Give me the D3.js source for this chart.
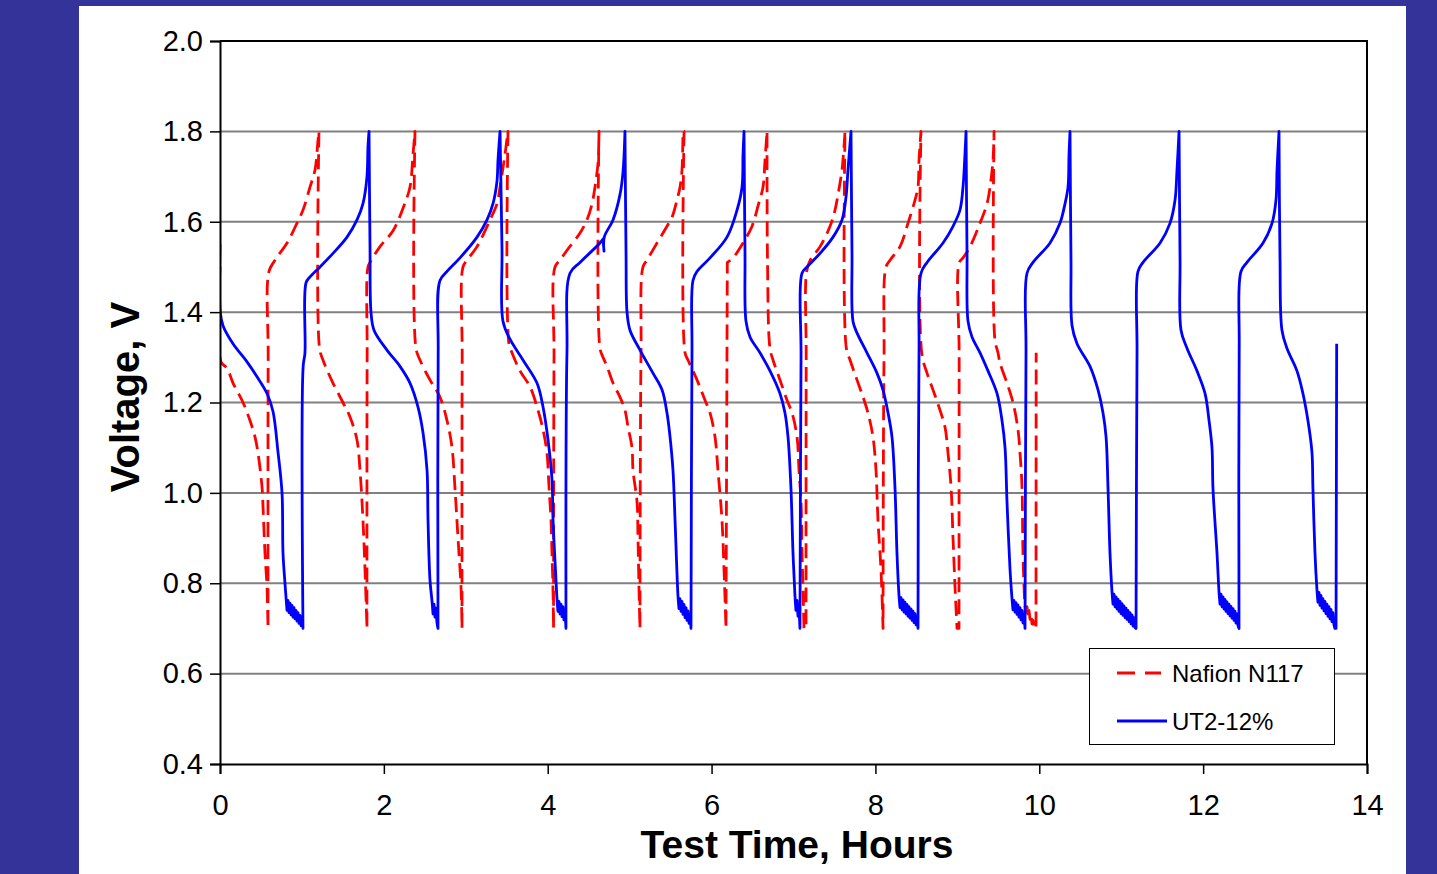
<!DOCTYPE html>
<html><head><meta charset="utf-8">
<script src="https://cdn.jsdelivr.net/npm/d3@7"></script>
<style>html,body{margin:0;padding:0;background:#333399;overflow:hidden}</style>
</head><body><svg id="chart" width="1437" height="874"></svg>
<script>
// ---------------- data ----------------
const xTicks = [0, 2, 4, 6, 8, 10, 12, 14];
const yTicks = [0.4, 0.6, 0.8, 1.0, 1.2, 1.4, 1.6, 1.8, 2.0];
const seriesNames = ["Nafion N117", "UT2-12%"];
const xLabel = "Test Time, Hours";
const yLabel = "Voltage, V";

// [hours, volts]
const nafionN117 = [
  [0.000,1.50],[0.012,1.29],[0.086,1.276],[0.159,1.243],[0.281,1.20],[0.366,1.16],[0.427,1.124],[0.464,1.088],[0.513,1.013],[0.525,0.97],[0.549,0.867],[0.574,0.79],[0.586,0.70],
  [0.588,1.30],[0.598,1.49],[0.671,1.515],[0.818,1.553],[0.940,1.597],[1.013,1.626],[1.099,1.677],[1.160,1.715],[1.196,1.78],[1.208,1.80],
  [1.215,1.32],[1.257,1.294],[1.379,1.243],[1.501,1.20],[1.587,1.168],[1.672,1.117],[1.709,1.05],[1.745,0.94],[1.770,0.83],[1.794,0.70],
  [1.796,1.30],[1.806,1.50],[1.831,1.51],[1.953,1.545],[2.112,1.58],[2.234,1.63],[2.319,1.677],[2.356,1.75],[2.380,1.80],
  [2.392,1.32],[2.441,1.294],[2.563,1.25],[2.685,1.212],[2.771,1.16],[2.832,1.10],[2.868,1.01],[2.905,0.90],[2.942,0.79],[2.954,0.70],
  [2.956,1.30],[2.966,1.50],[3.015,1.515],[3.137,1.545],[3.296,1.604],[3.381,1.64],[3.418,1.677],[3.479,1.75],[3.515,1.80],
  [3.527,1.33],[3.564,1.31],[3.662,1.27],[3.784,1.235],[3.881,1.183],[3.943,1.14],[3.991,1.088],[4.016,1.013],[4.040,0.94],[4.052,0.867],[4.065,0.78],[4.071,0.70],
  [4.077,1.30],[4.089,1.50],[4.150,1.515],[4.236,1.537],[4.394,1.575],[4.479,1.604],[4.541,1.64],[4.577,1.677],[4.614,1.73],[4.626,1.80],
  [4.638,1.32],[4.675,1.30],[4.724,1.28],[4.797,1.243],[4.882,1.212],[4.943,1.183],[4.980,1.146],[5.029,1.10],[5.041,1.05],[5.090,0.98],[5.102,0.90],[5.114,0.79],[5.126,0.70],
  [5.139,1.31],[5.163,1.50],[5.212,1.515],[5.334,1.553],[5.456,1.59],[5.517,1.61],[5.578,1.648],[5.615,1.677],[5.639,1.715],[5.651,1.80],
  [5.664,1.80],[5.676,1.31],[5.712,1.294],[5.822,1.25],[5.920,1.205],[5.981,1.177],[6.042,1.124],[6.078,1.05],[6.127,0.94],[6.152,0.83],[6.176,0.70],
  [6.188,1.30],[6.192,1.51],[6.262,1.52],[6.384,1.553],[6.494,1.59],[6.567,1.635],[6.628,1.677],[6.652,1.736],[6.677,1.80],
  [6.683,1.51],[6.713,1.32],[6.750,1.294],[6.835,1.25],[6.921,1.205],[6.982,1.177],[7.043,1.124],[7.067,1.05],[7.092,0.98],[7.104,0.867],[7.116,0.79],[7.128,0.70],
  [7.153,0.70],[7.155,1.30],[7.160,1.49],[7.204,1.515],[7.324,1.545],[7.446,1.59],[7.507,1.626],[7.543,1.66],[7.592,1.715],[7.629,1.80],
  [7.645,1.32],[7.690,1.294],[7.775,1.25],[7.849,1.212],[7.909,1.177],[7.970,1.124],[8.007,1.05],[8.031,0.94],[8.068,0.83],[8.093,0.70],
  [8.105,1.30],[8.129,1.50],[8.178,1.515],[8.300,1.545],[8.398,1.597],[8.483,1.648],[8.520,1.677],[8.532,1.736],[8.556,1.80],
  [8.565,1.31],[8.630,1.265],[8.703,1.228],[8.788,1.183],[8.849,1.146],[8.886,1.088],[8.923,1.013],[8.947,0.90],[8.972,0.79],[8.996,0.70],
  [9.020,0.70],[9.022,1.30],[9.024,1.51],[9.069,1.52],[9.155,1.545],[9.277,1.597],[9.362,1.64],[9.399,1.677],[9.435,1.736],[9.448,1.80],
  [9.458,1.34],[9.496,1.31],[9.521,1.287],[9.606,1.243],[9.679,1.20],[9.740,1.14],[9.765,1.088],[9.789,1.013],[9.801,0.867],[9.826,0.75],
  [9.838,0.735],[9.850,0.748],[9.862,0.728],[9.874,0.740],[9.887,0.720],[9.899,0.730],[9.911,0.710],[9.923,0.718],[9.935,0.700],[9.960,0.700],
  [9.962,1.31]
];

const ut2_12 = [
  [0.000,1.55],[0.003,1.40],[0.037,1.37],[0.159,1.33],[0.330,1.29],[0.452,1.257],[0.574,1.22],[0.647,1.18],[0.708,1.09],[0.757,1.00],[0.769,0.867],[0.793,0.80],
  [0.806,0.768],[0.818,0.740],[0.830,0.762],[0.842,0.735],[0.855,0.756],[0.867,0.730],[0.879,0.751],[0.891,0.725],[0.903,0.746],[0.916,0.721],[0.928,0.740],[0.940,0.716],[0.952,0.735],[0.964,0.711],[0.977,0.729],[0.989,0.706],[1.001,0.722],[1.013,0.700],
  [1.015,1.28],[1.037,1.31],[1.050,1.465],[1.099,1.478],[1.221,1.50],[1.379,1.53],[1.550,1.566],[1.672,1.604],[1.745,1.64],[1.794,1.70],[1.806,1.765],[1.819,1.80],
  [1.831,1.545],[1.843,1.40],[1.880,1.36],[2.038,1.316],[2.197,1.28],[2.319,1.243],[2.417,1.19],[2.478,1.133],[2.527,1.05],[2.539,0.94],[2.563,0.807],
  [2.588,0.760],[2.600,0.732],[2.612,0.754],[2.624,0.725],[2.637,0.745],[2.649,0.712],[2.661,0.700],
  [2.663,1.31],[2.685,1.47],[2.771,1.49],[2.929,1.52],[3.137,1.566],[3.259,1.604],[3.332,1.64],[3.381,1.69],[3.393,1.736],[3.418,1.80],
  [3.442,1.54],[3.454,1.38],[3.540,1.34],[3.698,1.294],[3.869,1.243],[3.943,1.19],[4.004,1.117],[4.052,1.03],[4.065,0.94],[4.101,0.807],
  [4.113,0.766],[4.125,0.738],[4.137,0.760],[4.150,0.732],[4.162,0.754],[4.174,0.726],[4.186,0.748],[4.198,0.719],[4.211,0.738],[4.223,0.700],
  [4.235,1.31],[4.272,1.486],[4.394,1.51],[4.638,1.553],[4.675,1.562],[4.687,1.535],[4.690,1.566],[4.797,1.604],[4.882,1.66],[4.919,1.71],[4.943,1.80],
  [4.956,1.53],[4.968,1.40],[5.004,1.36],[5.127,1.316],[5.285,1.265],[5.395,1.228],[5.456,1.177],[5.493,1.124],[5.529,1.05],[5.554,0.94],
  [5.590,0.772],[5.602,0.744],[5.614,0.766],[5.627,0.738],[5.639,0.760],[5.651,0.731],[5.663,0.753],[5.676,0.724],[5.688,0.746],[5.700,0.718],[5.712,0.739],[5.725,0.711],[5.737,0.730],[5.749,0.700],
  [5.761,1.31],[5.773,1.47],[5.822,1.49],[5.981,1.52],[6.188,1.566],[6.311,1.626],[6.372,1.677],[6.384,1.75],[6.396,1.80],
  [6.408,1.53],[6.420,1.38],[6.469,1.345],[6.591,1.31],[6.713,1.27],[6.835,1.22],[6.896,1.177],[6.933,1.124],[6.969,1.01],[6.994,0.867],
  [7.018,0.772],[7.030,0.740],[7.043,0.762],[7.055,0.727],[7.067,0.748],[7.079,0.700],
  [7.092,1.30],[7.104,1.486],[7.165,1.50],[7.324,1.53],[7.482,1.566],[7.592,1.604],[7.641,1.655],[7.665,1.715],[7.702,1.80],
  [7.714,1.53],[7.726,1.38],[7.775,1.354],[7.897,1.31],[8.019,1.265],[8.092,1.228],[8.154,1.177],[8.202,1.124],[8.239,1.01],[8.263,0.867],
  [8.288,0.772],[8.300,0.746],[8.312,0.768],[8.325,0.741],[8.337,0.763],[8.349,0.736],[8.361,0.758],[8.374,0.732],[8.386,0.753],[8.398,0.727],[8.410,0.748],[8.422,0.723],[8.435,0.743],[8.447,0.718],[8.459,0.738],[8.471,0.713],[8.483,0.733],[8.496,0.708],[8.508,0.726],[8.520,0.700],
  [8.532,1.31],[8.556,1.486],[8.630,1.51],[8.825,1.553],[8.947,1.59],[9.032,1.626],[9.069,1.677],[9.093,1.75],[9.106,1.80],
  [9.118,1.53],[9.130,1.38],[9.179,1.345],[9.277,1.31],[9.374,1.27],[9.484,1.22],[9.545,1.16],[9.582,1.10],[9.606,0.98],[9.643,0.83],
  [9.667,0.766],[9.679,0.741],[9.691,0.762],[9.704,0.736],[9.716,0.757],[9.728,0.731],[9.740,0.752],[9.752,0.725],[9.765,0.746],[9.777,0.719],[9.789,0.740],[9.801,0.712],[9.813,0.732],[9.826,0.700],
  [9.838,1.31],[9.850,1.486],[9.923,1.51],[10.131,1.553],[10.253,1.597],[10.314,1.64],[10.351,1.677],[10.363,1.75],[10.375,1.80],
  [10.387,1.515],[10.400,1.37],[10.461,1.33],[10.619,1.28],[10.717,1.228],[10.778,1.177],[10.815,1.124],[10.839,1.01],[10.863,0.867],
  [10.888,0.780],[10.900,0.754],[10.912,0.776],[10.924,0.748],[10.937,0.770],[10.949,0.743],[10.961,0.765],[10.973,0.738],[10.986,0.760],[10.998,0.733],[11.010,0.755],[11.022,0.729],[11.034,0.750],[11.047,0.724],[11.059,0.745],[11.071,0.720],[11.083,0.740],[11.096,0.715],[11.108,0.735],[11.120,0.710],[11.132,0.730],[11.145,0.705],[11.157,0.724],[11.169,0.702],[11.181,0.700],
  [11.193,1.31],[11.205,1.49],[11.266,1.51],[11.474,1.553],[11.596,1.597],[11.657,1.648],[11.681,1.715],[11.706,1.80],
  [11.718,1.515],[11.730,1.36],[11.803,1.32],[11.925,1.27],[12.023,1.22],[12.072,1.16],[12.108,1.10],[12.120,1.01],[12.169,0.867],
  [12.194,0.780],[12.206,0.754],[12.218,0.776],[12.230,0.748],[12.243,0.770],[12.255,0.743],[12.267,0.764],[12.279,0.738],[12.291,0.759],[12.304,0.733],[12.316,0.754],[12.328,0.728],[12.340,0.749],[12.352,0.723],[12.365,0.744],[12.377,0.718],[12.389,0.738],[12.401,0.712],[12.413,0.732],[12.426,0.706],[12.438,0.700],
  [12.440,1.32],[12.462,1.49],[12.535,1.51],[12.731,1.553],[12.841,1.597],[12.889,1.648],[12.902,1.715],[12.926,1.80],
  [12.938,1.52],[12.962,1.36],[13.023,1.32],[13.145,1.27],[13.218,1.22],[13.279,1.16],[13.328,1.09],[13.340,1.01],[13.365,0.867],
  [13.389,0.786],[13.401,0.758],[13.414,0.780],[13.426,0.751],[13.438,0.773],[13.450,0.745],[13.462,0.766],[13.475,0.739],[13.487,0.760],[13.499,0.733],[13.511,0.754],[13.523,0.727],[13.536,0.748],[13.548,0.721],[13.560,0.742],[13.572,0.715],[13.584,0.735],[13.597,0.708],[13.609,0.700],
  [13.622,0.70],[13.630,1.33]
];

// ---------------- drawing ----------------
const W = 1437, H = 874;
const FONT = '"Liberation Sans", Arial, Helvetica, sans-serif';
const plot = {left: 220, right: 1367, top: 41, bottom: 764};
const svg = d3.select("#chart");

svg.append("rect").attr("width", W).attr("height", H).attr("fill", "#333399");
svg.append("rect").attr("x", 79).attr("y", 6).attr("width", 1327).attr("height", H - 6).attr("fill", "#ffffff");

const x = d3.scaleLinear().domain([xTicks[0], xTicks[xTicks.length - 1]]).range([plot.left, plot.right]);
const y = d3.scaleLinear().domain([yTicks[0], yTicks[yTicks.length - 1]]).range([plot.bottom, plot.top]);

// gridlines
svg.append("g").selectAll("line")
  .data(yTicks.slice(1, -1)).join("line")
  .attr("x1", plot.left).attr("x2", plot.right)
  .attr("y1", d => y(d)).attr("y2", d => y(d))
  .attr("stroke", "#808080").attr("stroke-width", 2);

// series
const styles = [
  {data: nafionN117, color: "#FF0000", dash: "15,7"},
  {data: ut2_12, color: "#0000FF", dash: null}
];
const smooth = d3.line().x(d => x(d[0])).y(d => y(d[1])).curve(d3.curveCatmullRom.alpha(0.5));
// smooth between points, but keep sharp corners where the trace turns abruptly
function seriesPath(data) {
  const px = data.map(d => [x(d[0]), y(d[1])]);
  const runs = [];
  let start = 0;
  for (let i = 1; i < data.length - 1; i++) {
    const ax = px[i][0] - px[i-1][0], ay = px[i][1] - px[i-1][1];
    const bx = px[i+1][0] - px[i][0], by = px[i+1][1] - px[i][1];
    const la = Math.hypot(ax, ay), lb = Math.hypot(bx, by);
    if (la === 0 || lb === 0) continue;
    const cos = (ax*bx + ay*by) / (la*lb);
    if (cos < Math.cos(50 * Math.PI / 180)) {
      runs.push(data.slice(start, i + 1));
      start = i;
    }
  }
  runs.push(data.slice(start));
  return runs.map((r, k) => {
    const s = smooth(r);
    return k ? s.replace(/^M/, "L") : s;
  }).join("");
}
svg.append("defs").append("clipPath").attr("id", "clip")
  .append("rect").attr("x", plot.left).attr("y", plot.top - 3)
  .attr("width", plot.right - plot.left).attr("height", plot.bottom - plot.top + 3);
const gS = svg.append("g").attr("clip-path", "url(#clip)");
styles.forEach(s => {
  gS.append("path").attr("d", seriesPath(s.data))
    .attr("fill", "none").attr("stroke", s.color).attr("stroke-width", 2.8)
    .attr("stroke-linejoin", "round")
    .attr("stroke-dasharray", s.dash);
});

// frame (top & right)
svg.append("path")
  .attr("d", `M${plot.left},${plot.top}H${plot.right}V${plot.bottom}`)
  .attr("fill", "none").attr("stroke", "#000").attr("stroke-width", 2);

// axes
const yAxis = svg.append("g").attr("transform", `translate(${plot.left},0)`)
  .call(d3.axisLeft(y).tickValues(yTicks).tickFormat(d3.format(".1f")).tickSize(10).tickPadding(7));
const xAxis = svg.append("g").attr("transform", `translate(0,${plot.bottom})`)
  .call(d3.axisBottom(x).tickValues(xTicks).tickFormat(d3.format("d")).tickSize(10).tickPadding(20));
[yAxis, xAxis].forEach(a => {
  a.selectAll("path.domain").attr("stroke", "#000").attr("stroke-width", 2);
  a.selectAll(".tick line").attr("stroke", "#000").attr("stroke-width", 1.5);
  a.selectAll(".tick text").attr("fill", "#000").style("font-family", FONT).style("font-size", "29px");
});

// axis titles
svg.append("text").text(xLabel)
  .attr("x", 797).attr("y", 858).attr("text-anchor", "middle")
  .style("font-family", FONT).style("font-size", "39px").style("font-weight", "bold");
svg.append("text").text(yLabel)
  .attr("transform", "translate(139,397) rotate(-90)").attr("text-anchor", "middle")
  .style("font-family", FONT).style("font-size", "40px").style("font-weight", "bold");

// legend
const lg = svg.append("g");
lg.append("rect").attr("x", 1089.5).attr("y", 648.5).attr("width", 245).attr("height", 96)
  .attr("fill", "#fff").attr("stroke", "#000").attr("stroke-width", 1);
seriesNames.forEach((name, i) => {
  const cy = 673 + i * 48;
  lg.append("line").attr("x1", 1117).attr("x2", i === 0 ? 1161 : 1167)
    .attr("y1", cy).attr("y2", cy)
    .attr("stroke", styles[i].color).attr("stroke-width", 2.8)
    .attr("stroke-dasharray", i === 0 ? "18,10" : null);
  lg.append("text").text(name).attr("x", 1172).attr("y", cy + 9)
    .style("font-family", FONT).style("font-size", "24px").attr("fill", "#000");
});
</script>
</body></html>
